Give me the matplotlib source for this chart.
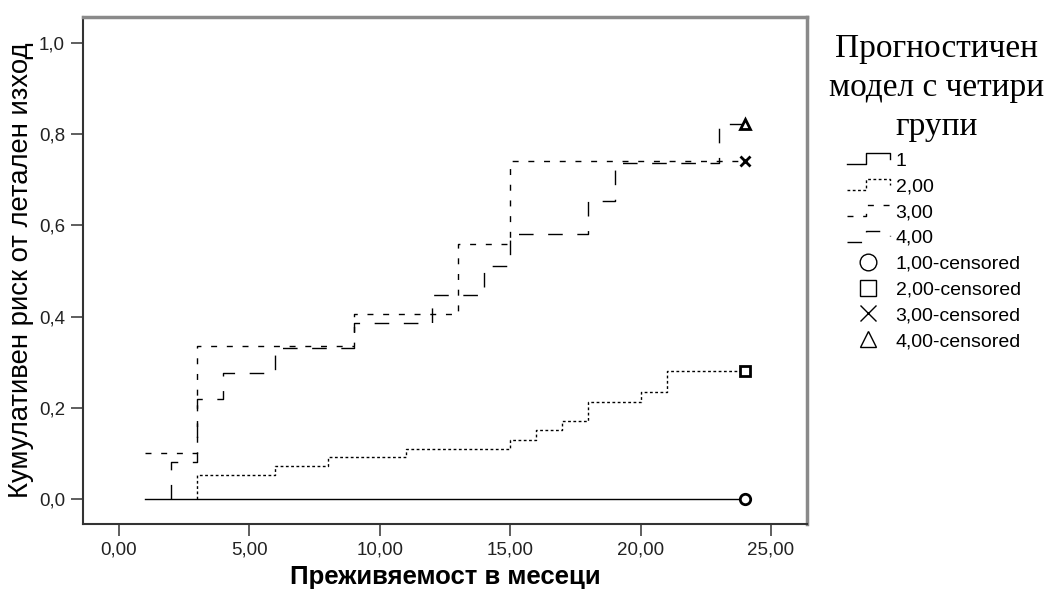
import numpy as np
import matplotlib
matplotlib.use("Agg")
from matplotlib import pyplot as plt
from matplotlib.lines import Line2D
from matplotlib.legend_handler import HandlerBase
from matplotlib.ticker import FuncFormatter

# Кумулативен риск по групи (стъпкови стойности, прочетени от графиката)
g1_x = [1, 24]
g1_y = [0.0, 0.0]
g2_x = [3, 3, 6, 8, 11, 15, 16, 17, 18, 20, 21, 24]
g2_y = [0.0, 0.053, 0.072, 0.092, 0.110, 0.130, 0.151, 0.171, 0.213, 0.235, 0.281, 0.281]
g3_x = [1, 3, 9, 13, 15, 24]
g3_y = [0.100, 0.336, 0.406, 0.559, 0.741, 0.741]
g4_x = [2, 2, 3, 4, 6, 9, 12, 14, 15, 18, 19, 23, 24]
g4_y = [0.0, 0.081, 0.220, 0.276, 0.330, 0.386, 0.447, 0.511, 0.581, 0.654, 0.737, 0.822, 0.822]

line_labels = ["1", "2,00", "3,00", "4,00"]
censor_labels = ["1,00-censored", "2,00-censored", "3,00-censored", "4,00-censored"]
x_ticks = [0, 5, 10, 15, 20, 25]
y_ticks = [0.0, 0.2, 0.4, 0.6, 0.8, 1.0]

title_lines = ["Прогностичен", "модел с четири", "групи"]
x_label = "Преживяемост в месеци"
y_label = "Кумулативен риск от летален изход"

sans = "Liberation Sans"
serif = "Liberation Serif"

styles = [
    dict(linestyle="-"),
    dict(linestyle=(0, (2.0, 1.8))),
    dict(linestyle=(0, (4.3, 7.0))),
    dict(linestyle=(0, (10.5, 10.5))),
]
markers = ["o", "s", "x", "^"]

fig = plt.figure(figsize=(10.53, 5.99), dpi=100)
ax = fig.add_axes([83 / 1053, 75 / 599, (807 - 83) / 1053, (524 - 17) / 599])

series = [(g1_x, g1_y), (g2_x, g2_y), (g3_x, g3_y), (g4_x, g4_y)]
for (xs, ys), st, mk in zip(series, styles, markers):
    ax.plot(xs, ys, drawstyle="steps-post", color="black", linewidth=1.0, **st)
    ax.plot(xs[-1], ys[-1], marker=mk, markersize=7.5, markerfacecolor="white",
            markeredgecolor="black", markeredgewidth=2.0, linestyle="none")

ax.set_xlim(-1.38, 26.38)
ax.set_ylim(-0.055, 1.057)
ax.set_xticks(x_ticks)
ax.set_yticks(y_ticks)
ax.xaxis.set_major_formatter(FuncFormatter(lambda v, p: f"{v:.2f}".replace(".", ",")))
ax.yaxis.set_major_formatter(FuncFormatter(lambda v, p: f"{v:.1f}".replace(".", ",")))
ax.tick_params(direction="out", length=8.5, width=1.1, color="#333333", labelsize=13.5)
ax.tick_params(axis="x", pad=4)
ax.tick_params(axis="y", pad=4.5)
for lab in ax.get_xticklabels() + ax.get_yticklabels():
    lab.set_fontfamily(sans)
    lab.set_color("#222222")

for side in ["top", "right"]:
    ax.spines[side].set_color("#8a8a8a")
    ax.spines[side].set_linewidth(2.5)
for side in ["left", "bottom"]:
    ax.spines[side].set_color("#333333")
    ax.spines[side].set_linewidth(1.5)

ax.set_xlabel(x_label, fontfamily=sans, fontsize=18.5, fontweight="bold", labelpad=5)
ax.set_ylabel(y_label, fontfamily=sans, fontsize=19.8)
ax.yaxis.set_label_coords(-0.068, 0.50)


class StepHandler(HandlerBase):
    def create_artists(self, legend, orig_handle, xdescent, ydescent, width, height, fontsize, trans):
        xs = np.array([0, 0.45, 0.45, 1.0, 1.0]) * width - xdescent
        ys = np.array([0.1, 0.1, 0.9, 0.9, 0.5]) * height - ydescent
        line = Line2D(xs, ys)
        self.update_prop(line, orig_handle, legend)
        line.set_transform(trans)
        return [line]


handles = []
handler_map = {}
for st in styles:
    h = Line2D([], [], color="black", linewidth=1.0, **st)
    handles.append(h)
    handler_map[h] = StepHandler()
for mk in markers:
    handles.append(Line2D([], [], linestyle="none", marker=mk, markersize=12,
                          markerfacecolor="white", markeredgecolor="black", markeredgewidth=1.0))

fig.legend(handles, line_labels + censor_labels, handler_map=handler_map,
           loc="upper left", bbox_to_anchor=(847 / 1053, 1 - 152 / 599),
           frameon=False, borderpad=0, borderaxespad=0, handlelength=2.2,
           handletextpad=0.3, labelspacing=0.42, prop={"family": sans, "size": 14})

for line, base in zip(title_lines, [57, 96, 135]):
    fig.text(937 / 1053, 1 - base / 599, line, ha="center", va="baseline",
             fontfamily=serif, fontsize=24, color="black")

fig.savefig("out.png", dpi=100)
